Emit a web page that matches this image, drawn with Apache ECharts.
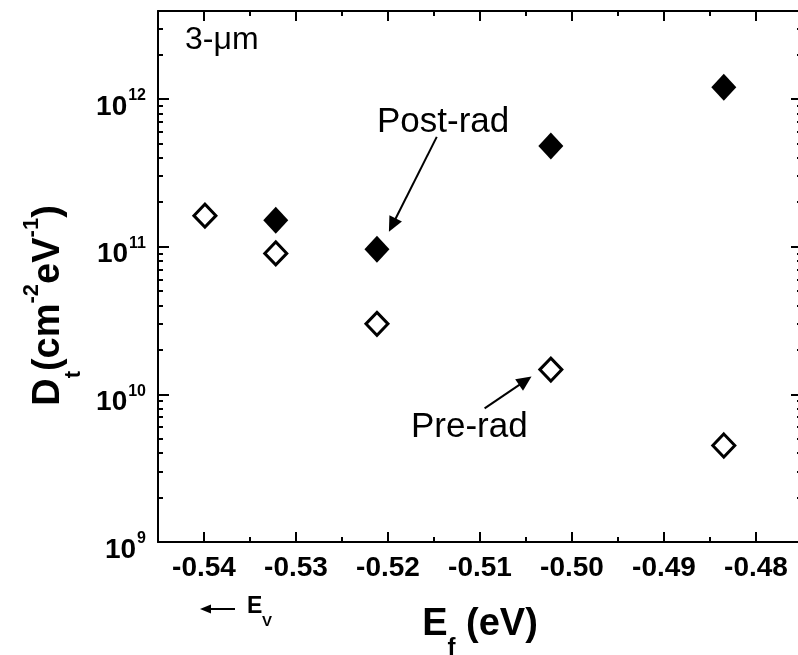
<!DOCTYPE html>
<html><head><meta charset="utf-8">
<script src="https://cdn.jsdelivr.net/npm/echarts@6/dist/echarts.min.js"></script>
<style>html,body{margin:0;padding:0;background:#fff}#c{width:798px;height:655px}</style>
</head><body><div id="c"></div>
<script>
// ---- data ----
const preRadX = [-0.5399, -0.5322, -0.5212, -0.5023, -0.4835];
const preRadY = [1.62e11, 9.0e10, 3.0e10, 1.47e10, 4.5e9];
const postRadX = [-0.5322, -0.5212, -0.5023, -0.4835];
const postRadY = [1.51e11, 9.6e10, 4.8e11, 1.2e12];
const xTickLabels = [-0.54, -0.53, -0.52, -0.51, -0.50, -0.49, -0.48];
const xMinorTicks = [-0.535, -0.525, -0.515, -0.505, -0.495, -0.485];
const yTickLabels = [1e9, 1e10, 1e11, 1e12];
const yMinorTicks = [2e9, 3e9, 4e9, 5e9, 6e9, 7e9, 8e9, 9e9,
                     2e10, 3e10, 4e10, 5e10, 6e10, 7e10, 8e10, 9e10,
                     2e11, 3e11, 4e11, 5e11, 6e11, 7e11, 8e11, 9e11,
                     2e12, 3e12];
const postArrow = [[-0.5147, 5.54e11], [-0.5199, 1.26e11]];
const preArrow = [[-0.5095, 8.04e9], [-0.5044, 1.32e10]];

const FONT = 'Liberation Sans, Arial, sans-serif';
const XMIN = -0.545, XMAX = -0.475, YMIN = 1e9, YMAX = 3.94e12;

const chart = echarts.init(document.getElementById('c'), null, {renderer: 'canvas'});

function xAx(pos, major, withLabels) {
  return {
    type: 'value', min: XMIN, max: XMAX, position: pos, splitLine: {show: false},
    axisLine: {show: major, lineStyle: {color: '#000', width: 2}},
    axisTick: {show: true, inside: true, length: major ? 10 : 5,
      customValues: major ? xTickLabels : xMinorTicks, lineStyle: {color: '#000', width: 2}},
    axisLabel: withLabels ? {show: true, customValues: xTickLabels, margin: 12,
      formatter: v => v.toFixed(2), color: '#000', fontSize: 28, fontWeight: 'bold', fontFamily: FONT}
      : {show: false}
  };
}
function yAx(pos, major, withLabels) {
  return {
    type: 'log', logBase: 10, min: YMIN, max: YMAX, position: pos, splitLine: {show: false},
    axisLine: {show: major, lineStyle: {color: '#000', width: 2}},
    axisTick: {show: true, inside: true, length: major ? 11 : 5,
      customValues: major ? yTickLabels : yMinorTicks, lineStyle: {color: '#000', width: 2}},
    axisLabel: withLabels ? {show: true, customValues: yTickLabels, margin: 12,
      formatter: v => '{a|10}{b|' + Math.round(Math.log10(v)) + '}',
      color: '#000', fontFamily: FONT, fontWeight: 'bold',
      rich: {
        a: {fontSize: 28, fontWeight: 'bold', fontFamily: FONT, color: '#000', lineHeight: 28, padding: [8, 0, 8, 0], verticalAlign: 'top'},
        b: {fontSize: 16, fontWeight: 'bold', fontFamily: FONT, color: '#000', lineHeight: 16, padding: [3, 0, 0, 1], verticalAlign: 'top'}
      }} : {show: false}
  };
}

const x0 = xAx('bottom', true, true);
x0.name = '{a|E}{s|f}{a| (eV)}';
x0.nameLocation = 'middle';
x0.nameGap = 64;
x0.nameTextStyle = {
  rich: {
    a: {fontSize: 38, fontWeight: 'bold', fontFamily: FONT, color: '#000', lineHeight: 40, verticalAlign: 'top'},
    s: {fontSize: 24, fontWeight: 'bold', fontFamily: FONT, color: '#000', lineHeight: 24, padding: [30, 0, 0, 0], verticalAlign: 'top'}
  }
};
const y0 = yAx('left', true, true);
y0.name = '{a|D}{s|t}{a|(cm}{p|-2}{a|eV}{p|-1}{a|)}';
y0.nameLocation = 'middle';
y0.nameRotate = 90;
y0.nameGap = 68;
y0.nameTextStyle = {
  padding: [0, 58, 0, 0],
  rich: {
    a: {fontSize: 38, fontWeight: 'bold', fontFamily: FONT, color: '#000', lineHeight: 40, padding: [14, 0, 14, 0], verticalAlign: 'top'},
    s: {fontSize: 22, fontWeight: 'bold', fontFamily: FONT, color: '#000', lineHeight: 22, padding: [48, 0, 0, 0], verticalAlign: 'top'},
    p: {fontSize: 22, fontWeight: 'bold', fontFamily: FONT, color: '#000', lineHeight: 22, padding: [6, 0, 0, 0], verticalAlign: 'top'}
  }
};

function arrowEls(p0, p1, headLen, headHalf) {
  const dx = p1[0] - p0[0], dy = p1[1] - p0[1];
  const L = Math.sqrt(dx * dx + dy * dy);
  const ux = dx / L, uy = dy / L;
  const bx = p1[0] - ux * headLen, by = p1[1] - uy * headLen;
  return [
    {type: 'line', silent: true, shape: {x1: p0[0], y1: p0[1], x2: bx + ux * 2, y2: by + uy * 2},
      style: {stroke: '#000', lineWidth: 2}},
    {type: 'polygon', silent: true, shape: {points: [[p1[0], p1[1]],
      [bx - uy * headHalf, by + ux * headHalf], [bx + uy * headHalf, by - ux * headHalf]]},
      style: {fill: '#000'}}
  ];
}

const option = {
  animation: false,
  backgroundColor: '#fff',
  grid: {left: 158, top: 11, width: 644, height: 531, outerBoundsMode: 'none'},
  xAxis: [x0, xAx('bottom', false, false), xAx('top', true, false), xAx('top', false, false)],
  yAxis: [y0, yAx('left', false, false), yAx('right', true, false), yAx('right', false, false)],
  series: [
    {
      name: 'Pre-rad', type: 'scatter', xAxisIndex: 0, yAxisIndex: 0,
      symbol: 'diamond', symbolSize: [22, 23],
      itemStyle: {color: '#fff', borderColor: '#000', borderWidth: 3, opacity: 1},
      data: preRadX.map((x, i) => [x, preRadY[i]])
    },
    {
      name: 'Post-rad', type: 'scatter', xAxisIndex: 0, yAxisIndex: 0,
      symbol: 'diamond', symbolSize: [25, 27],
      itemStyle: {color: '#000', opacity: 1},
      data: postRadX.map((x, i) => [x, postRadY[i]])
    }
  ]
};
chart.setOption(option);

function px(pt) { return chart.convertToPixel({xAxisIndex: 0, yAxisIndex: 0}, pt); }

const graphics = [].concat(
  arrowEls(px(postArrow[0]), px(postArrow[1]), 15, 7),
  arrowEls(px(preArrow[0]), px(preArrow[1]), 15, 7),
  arrowEls([235, 609], [200, 609], 11, 4.5),
  [
    {type: 'text', x: 185, y: 40, style: {text: '3-\u03bcm', fontSize: 32, fontFamily: FONT, fill: '#000', align: 'left', verticalAlign: 'middle'}},
    {type: 'text', x: 377, y: 122, style: {text: 'Post-rad', fontSize: 35, fontFamily: FONT, fill: '#000', align: 'left', verticalAlign: 'middle'}},
    {type: 'text', x: 411, y: 427, style: {text: 'Pre-rad', fontSize: 35, fontFamily: FONT, fill: '#000', align: 'left', verticalAlign: 'middle'}},
    {type: 'text', x: 247, y: 607, style: {text: 'E', fontSize: 23, fontWeight: 'bold', fontFamily: FONT, fill: '#000', align: 'left', verticalAlign: 'middle'}},
    {type: 'text', x: 262, y: 622, style: {text: 'V', fontSize: 15, fontWeight: 'bold', fontFamily: FONT, fill: '#000', align: 'left', verticalAlign: 'middle'}}
  ]
);
chart.setOption({graphic: graphics});
</script>
</body></html>
